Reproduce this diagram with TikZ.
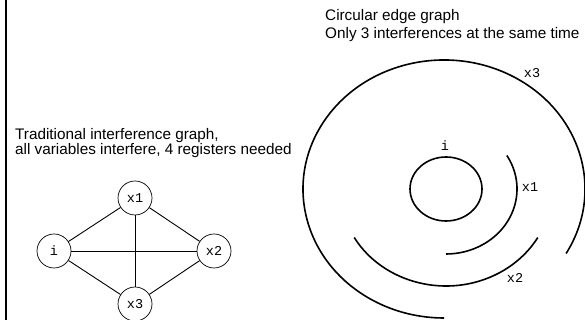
\documentclass[tikz,border=0pt]{standalone}
\usepackage{fontspec}
\setmainfont{Liberation Sans}
\newfontfamily\labelmono{Liberation Mono}
\begin{document}
\begin{tikzpicture}[x=1pt,y=1pt,
  caption/.style={anchor=base west,inner sep=0pt,font=\fontsize{15.3}{15.3}\selectfont},
  vnode/.style={draw,circle,line width=0.7pt,minimum size=34pt,inner sep=0pt,font=\labelmono\fontsize{13.5}{13.5}\selectfont},
  edge/.style={line width=0.9pt},
  ring/.style={line width=1.6pt},
  rlabel/.style={inner sep=0pt,font=\labelmono\fontsize{13.5}{13.5}\selectfont}]
\useasboundingbox (0,0) rectangle (585,320);
% left border
\draw[line width=2pt] (6,0) -- (6,320);
% left captions
\node[caption] (t1) at (15,180) {Traditional interference graph,};
\node[caption] (t2) at (15,165) {all variables interfere, 4 registers needed};
% interference graph
\node[vnode] (x1) at (135,122) {x1};
\node[vnode] (i)  at (54,69) {i};
\node[vnode] (x2) at (214,69) {x2};
\node[vnode] (x3) at (135,16) {x3};
\draw[edge] (i) -- (x1);
\draw[edge] (x1) -- (x2);
\draw[edge] (x2) -- (x3);
\draw[edge] (x3) -- (i);
\draw[edge] (i) -- (x2);
\draw[edge] (x1) -- (x3);
% right captions
\node[caption] (r1) at (325,299) {Circular edge graph};
\node[caption] (r2) at (325,281) {Only 3 interferences at the same time};
% circular edge graph
\coordinate (c) at (446,131);
\coordinate (cb) at (444,131);
\draw[ring] (c) ellipse[x radius=36pt, y radius=32pt];
\draw[ring] ([shift={(31:71pt and 65pt)}]c) arc[start angle=31, end angle=-90, x radius=71pt, y radius=65pt];
\draw[ring] ([shift={(210:106pt and 97pt)}]c) arc[start angle=210, end angle=330, x radius=106pt, y radius=97pt];
\draw[ring] ([shift={(-30:141pt and 129pt)}]cb) arc[start angle=-30, end angle=270, x radius=141pt, y radius=129pt];
\node[rlabel] (li) at (445,174) {i};
\node[rlabel] (l1) at (530,133) {x1};
\node[rlabel] (l2) at (515,42) {x2};
\node[rlabel] (l3) at (532,247) {x3};
\end{tikzpicture}
\end{document}
